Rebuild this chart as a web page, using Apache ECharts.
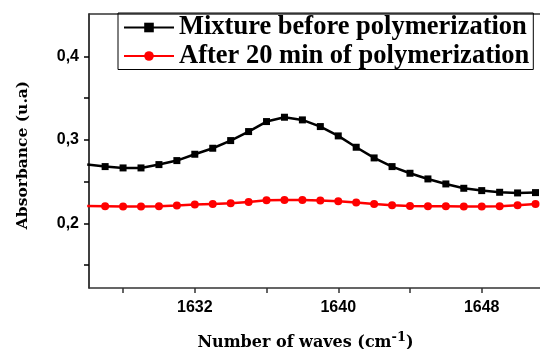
<!DOCTYPE html>
<html><head><meta charset="utf-8">
<script src="https://cdn.jsdelivr.net/npm/echarts@6/dist/echarts.min.js"></script>
<style>html,body{margin:0;padding:0;background:#fff}#c{width:540px;height:349px}</style>
</head><body><div id="c"></div>
<script>
const wavenumbers = [1626,1627,1628,1629,1630,1631,1632,1633,1634,1635,1636,1637,1638,1639,1640,1641,1642,1643,1644,1645,1646,1647,1648,1649,1650,1651];
const beforePoly = [0.2706,0.2680,0.2664,0.2664,0.2704,0.2752,0.2828,0.2900,0.2992,0.3100,0.3220,0.3272,0.3240,0.3160,0.3048,0.2912,0.2784,0.2680,0.2600,0.2532,0.2472,0.2420,0.2392,0.2372,0.2364,0.2368];
const afterPoly = [0.2206,0.2204,0.2200,0.2200,0.2204,0.2212,0.2224,0.2232,0.2240,0.2256,0.2276,0.2280,0.2280,0.2272,0.2264,0.2248,0.2232,0.2216,0.2208,0.2204,0.2204,0.2200,0.2200,0.2204,0.2216,0.2232];
const xTicks = [1628,1632,1636,1640,1644,1648];
const xLabels = [1632,1640,1648];
const yTicks = [0.15,0.2,0.25,0.3,0.35,0.4];
const yLabels = [0.2,0.3,0.4];
const seriesNames = ['Mixture before polymerization','After 20 min of polymerization'];

const chart = echarts.init(document.getElementById('c'));
const serif = 'DejaVu Serif';
chart.setOption({
  animation:false,
  grid:{left:89,right:0,top:14,bottom:61,containLabel:false,outerBoundsMode:'none'},
  legend:{
    orient:'vertical', left:118, top:13, padding:[1,4,0,5],
    borderColor:'#000', borderWidth:1, itemWidth:50, itemHeight:12, itemGap:1.5,
    textStyle:{fontFamily:'Liberation Serif',fontWeight:'bold',fontSize:26.5,color:'#000'},
    data:seriesNames
  },
  xAxis:[{
    type:'value', min:1626.1, max:1651.25,
    axisLine:{show:true,lineStyle:{color:'#333',width:1.5}},
    axisTick:{show:true,inside:false,length:5,customValues:xTicks,lineStyle:{color:'#333',width:1.5}},
    axisLabel:{customValues:xLabels,margin:12,fontFamily:'Liberation Sans',fontWeight:'bold',fontSize:16,color:'#000',
      formatter:v=>String(v)},
    splitLine:{show:false},
    name:'Number of waves (cm{s|-1})', nameLocation:'middle', nameGap:43,
    nameTextStyle:{fontFamily:serif,fontWeight:'bold',fontSize:16,color:'#000',padding:[0,18,0,0],
      rich:{s:{fontFamily:serif,fontWeight:'bold',fontSize:13,verticalAlign:'top',padding:[0,0,10,0]}}}
  },{
    type:'value', position:'top', min:1626.1, max:1651.25,
    axisLine:{show:true,lineStyle:{color:'#333',width:1.5}},
    axisTick:{show:false}, axisLabel:{show:false}, splitLine:{show:false}
  }],
  yAxis:{
    type:'value', min:0.1224, max:0.451,
    axisLine:{show:true,lineStyle:{color:'#000',width:1.5}},
    axisTick:{show:true,length:5,customValues:yTicks,lineStyle:{color:'#000',width:1.5}},
    axisLabel:{customValues:yLabels,margin:10,fontFamily:'Liberation Sans',fontWeight:'bold',fontSize:16,color:'#000',
      formatter:v=>v.toFixed(1).replace('.',',')},
    splitLine:{show:false},
    name:'Absorbance (u.a)', nameLocation:'middle', nameGap:58,
    nameTextStyle:{fontFamily:serif,fontWeight:'bold',fontSize:15.5,color:'#000',padding:[0,0,0,-8]}
  },
  series:[{
    name:seriesNames[0], type:'line', data:wavenumbers.map((x,i)=>[x,beforePoly[i]]),
    symbol:'rect', symbolSize:7, clip:true,
    lineStyle:{color:'#000',width:2.5}, itemStyle:{color:'#000'}
  },{
    name:seriesNames[1], type:'line', data:wavenumbers.map((x,i)=>[x,afterPoly[i]]),
    symbol:'circle', symbolSize:8, clip:true,
    lineStyle:{color:'#ff0000',width:2.5}, itemStyle:{color:'#ff0000'}
  }]
});
</script></body></html>
